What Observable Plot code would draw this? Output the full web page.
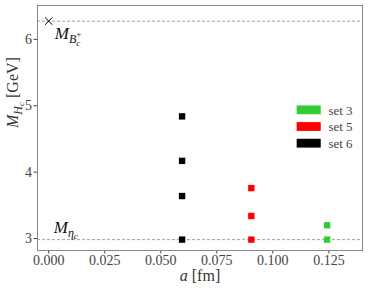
<!DOCTYPE html>
<html><head><meta charset="utf-8">
<script src="https://cdn.jsdelivr.net/npm/d3@7"></script>
<script src="https://cdn.jsdelivr.net/npm/@observablehq/plot@0.6"></script>
<style>body{margin:0;background:#fff}</style>
</head><body><div id="chart"></div>
<script>
const sets = ["set 3", "set 5", "set 6"];
const setColors = ["#33cc33", "#ff0000", "#000000"];
const spacing = [0.1242, 0.0904, 0.0595];
const masses = [
  [2.984, 3.20],
  [2.984, 3.34, 3.76],
  [2.984, 3.64, 4.17, 4.84]
];
const mEtaC = 2.984;
const mBc = 6.2745;
const xTicks = [0, 0.025, 0.05, 0.075, 0.1, 0.125];
const yTicks = [3, 4, 5, 6];

const points = [];
sets.forEach((s, i) => masses[i].forEach(m => points.push({set: s, a: spacing[i], m})));

const xDom = [-0.005, 0.14], yDom = [2.82, 6.51];
// legend in data space (computed from domain fractions)
const lx1 = xDom[0] + (xDom[1]-xDom[0])*0.799, lx2 = xDom[0] + (xDom[1]-xDom[0])*0.873;
const ltx = xDom[0] + (xDom[1]-xDom[0])*0.895;
const legend = sets.map((s, i) => {
  const yc = yDom[1] - (yDom[1]-yDom[0])*(0.428 + i*0.068);
  const h = (yDom[1]-yDom[0])*0.018;
  return {set: s, y1: yc - h, y2: yc + h, yc};
});
const serif = "'Liberation Serif', 'DejaVu Serif', serif";

const plot = Plot.plot({
  width: 374, height: 288,
  marginLeft: 37, marginRight: 12, marginTop: 5, marginBottom: 38,
  style: {fontFamily: serif, fontSize: "14px", color: "#444", background: "#fff"},
  x: {domain: xDom, ticks: xTicks, tickFormat: d3.format(".3f"), label: null, tickSize: 3.5, tickPadding: 1},
  y: {domain: yDom, ticks: yTicks, tickFormat: d => d, label: null, tickSize: 3.5, tickPadding: 2},
  color: {domain: sets, range: setColors},
  marks: [
    Plot.frame({stroke: "#888"}),
    Plot.ruleY([mEtaC, mBc], {stroke: "#888", strokeDasharray: "3,2", strokeWidth: 0.8}),
    Plot.dot(points, {x: "a", y: "m", fill: "set", symbol: "square", r: 3.6}),
    Plot.dot([{a: 0, m: mBc}], {x: "a", y: "m", symbol: "times", stroke: "#000", r: 3.5, strokeWidth: 1}),
    Plot.text([{a: 0, m: mBc}], {x: "a", y: "m", text: () => "MBc+", dx: 6, dy: 12, textAnchor: "start", fontSize: 17, fill: "#111", className: "lblBc"}),
    Plot.text([{a: 0, m: mEtaC}], {x: "a", y: "m", text: () => "Metac", dx: 5, dy: -12, textAnchor: "start", fontSize: 17, fill: "#111", className: "lblEta"}),
    Plot.rect(legend, {x1: lx1, x2: lx2, y1: "y1", y2: "y2", fill: "set"}),
    Plot.text(legend, {x: ltx, y: "yc", text: "set", textAnchor: "start", fontSize: 13, fill: "#444"}),
    Plot.text([0], {frameAnchor: "left", dx: -25, rotate: -90, text: () => "MHc [GeV]", fontSize: 16, fill: "#333", className: "lblY"}),
    Plot.text([0], {frameAnchor: "bottom", dy: 30, text: () => "a [fm]", fontSize: 16, fill: "#333", className: "lblX"})
  ]
});
document.getElementById("chart").appendChild(plot);

const svg = d3.select(plot);
function build(sel, parts) {
  sel.selectAll("text").each(function() {
    const t = d3.select(this);
    t.text(null);
    parts.forEach(p => {
      const ts = t.append("tspan").text(p.t);
      if (p.it) ts.attr("font-style", "italic");
      if (p.fs) ts.attr("font-size", p.fs);
      if (p.dy) ts.attr("dy", p.dy);
      if (p.dx) ts.attr("dx", p.dx);
    });
  });
}
build(svg.select(".lblBc"), [
  {t: "M", it: 1}, {t: "B", it: 1, fs: 12, dy: 4}, {t: "+", fs: 9, dy: -6}, {t: "c", it: 1, fs: 9, dx: -5, dy: 9}
]);
build(svg.select(".lblEta"), [
  {t: "M", it: 1}, {t: "η", it: 1, fs: 12, dy: 4}, {t: "c", it: 1, fs: 9, dy: 2}
]);
build(svg.select(".lblY"), [
  {t: "M", it: 1}, {t: "H", it: 1, fs: 12, dy: 4}, {t: "c", it: 1, fs: 9, dy: 2}, {t: " [GeV]", dy: -6}
]);
build(svg.select(".lblX"), [
  {t: "a", it: 1}, {t: " [fm]"}
]);
</script></body></html>
